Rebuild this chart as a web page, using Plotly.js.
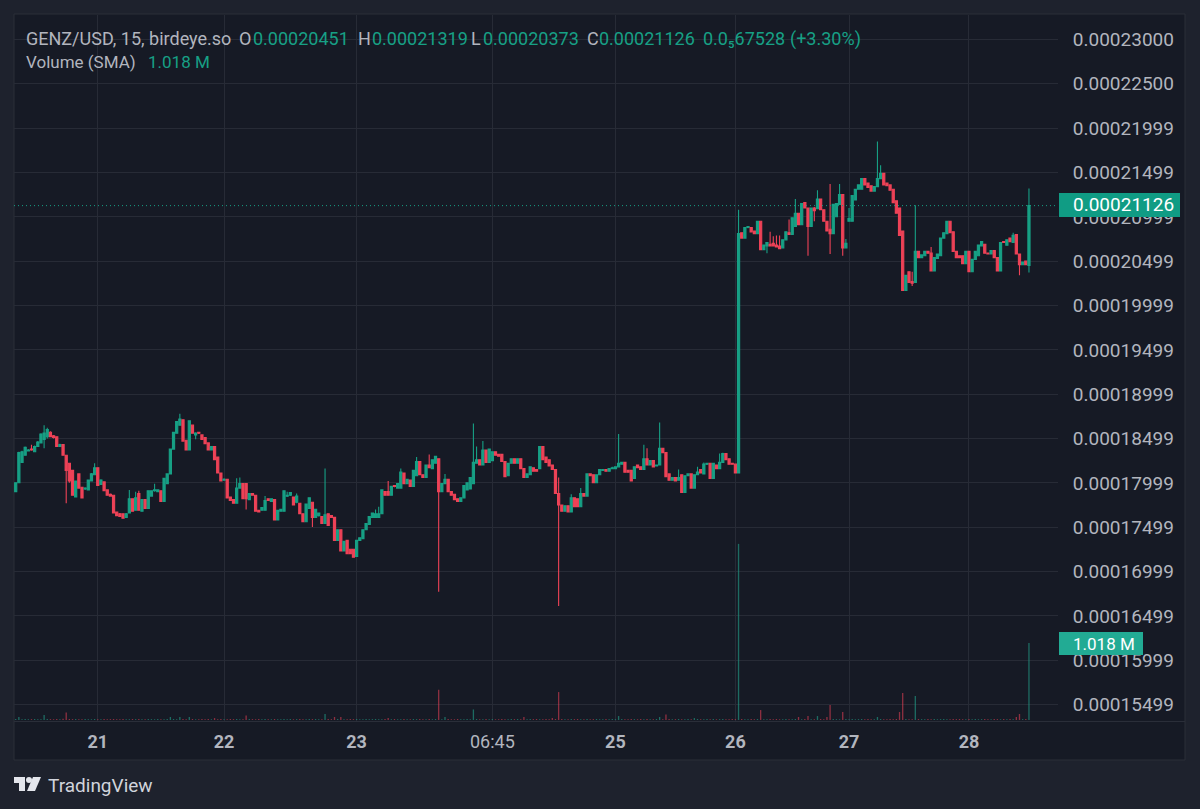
<!DOCTYPE html>
<html><head><meta charset="utf-8">
<script src="https://cdn.plot.ly/plotly-3.0.1.min.js"></script>
<style>html,body{margin:0;padding:0;background:#1e222d}</style></head>
<body><div id="chart" style="width:1200px;height:809px"></div>
<script>
// prices in units of 0.0000001 USD, volume in thousands
const PRICE_UNIT = 1e-7;
const opens = [
1790,1800,1823,1831,1836,1838,1835,1841,1845,1849,
1852,1857,1853,1852,1841,1843,1831,1822,1814,1784,
1810,1795,1793,1792,1802,1809,1817,1798,1801,1792,
1787,1786,1767,1765,1765,1761,1766,1782,1769,1788,
1768,1781,1771,1785,1791,1790,1791,1779,1799,1810,
1838,1856,1865,1871,1848,1837,1865,1854,1857,1854,
1851,1845,1837,1841,1829,1811,1803,1804,1784,1781,
1777,1794,1799,1799,1781,1788,1786,1769,1769,1769,
1782,1779,1781,1758,1768,1768,1785,1786,1784,1778,
1777,1765,1756,1771,1778,1761,1763,1762,1754,1765,
1763,1761,1735,1747,1723,1735,1725,1725,1717,1735,
1737,1747,1753,1761,1761,1761,1765,1790,1790,1786,
1797,1794,1794,1811,1799,1803,1796,1808,1824,1809,
1806,1820,1816,1822,1827,1790,1799,1804,1790,1787,
1782,1779,1783,1792,1793,1799,1822,1826,1820,1837,
1823,1825,1835,1832,1832,1824,1808,1822,1827,1822,
1827,1816,1806,1809,1817,1815,1816,1841,1829,1826,
1820,1815,1788,1775,1768,1774,1767,1783,1782,1773,
1788,1785,1810,1809,1800,1809,1814,1815,1813,1816,
1816,1818,1821,1823,1814,1814,1805,1820,1818,1815,
1827,1820,1825,1819,1820,1839,1834,1810,1803,1806,
1803,1809,1789,1808,1810,1794,1809,1815,1810,1821,
1822,1805,1820,1816,1823,1833,1827,1822,1821,1811,
2082,2076,2088,2088,2084,2081,2095,2063,2067,2069,
2070,2068,2067,2065,2074,2082,2080,2089,2104,2091,
2116,2110,2089,2110,2109,2120,2108,2095,2086,2081,
2100,2114,2125,2065,2095,2095,2119,2131,2131,2143,
2138,2135,2129,2134,2143,2149,2138,2136,2131,2118,
2110,2084,2017,2038,2027,2026,2061,2054,2056,2061,
2059,2039,2053,2056,2076,2081,2095,2083,2061,2056,
2056,2047,2061,2038,2052,2056,2067,2069,2059,2058,
2062,2054,2039,2072,2068,2076,2071,2080,2058,2046,
2050,2045.1];
const closes = [
1800,1834,1835,1840,1837,1837,1841,1846,1855,1856,
1860,1852,1851,1841,1843,1831,1814,1802,1786,1802,
1794,1783,1794,1803,1810,1817,1797,1803,1791,1786,
1785,1766,1763,1762,1760,1765,1782,1768,1783,1769,
1781,1771,1791,1791,1792,1792,1779,1805,1810,1838,
1857,1869,1872,1847,1837,1870,1856,1856,1856,1849,
1844,1837,1841,1826,1811,1802,1804,1783,1780,1777,
1794,1799,1782,1782,1788,1786,1768,1767,1772,1780,
1780,1782,1758,1769,1770,1791,1786,1789,1775,1785,
1765,1756,1776,1783,1761,1770,1766,1754,1764,1752,
1761,1735,1747,1723,1734,1720,1720,1716,1735,1738,
1747,1754,1762,1766,1765,1765,1792,1786,1786,1796,
1796,1799,1812,1799,1804,1796,1814,1824,1809,1806,
1820,1817,1826,1830,1790,1799,1804,1790,1786,1781,
1779,1783,1797,1800,1806,1823,1826,1820,1837,1823,
1838,1835,1831,1830,1824,1807,1822,1827,1822,1827,
1816,1806,1810,1818,1813,1813,1841,1826,1823,1819,
1815,1788,1775,1768,1774,1767,1783,1773,1773,1788,
1785,1810,1808,1800,1809,1815,1815,1813,1816,1817,
1818,1822,1823,1812,1812,1802,1818,1817,1815,1827,
1820,1825,1818,1820,1839,1834,1807,1803,1806,1802,
1806,1789,1808,1810,1794,1809,1812,1811,1821,1822,
1805,1822,1816,1823,1833,1826,1821,1821,1811,2081,
2076,2088,2089,2083,2081,2095,2063,2068,2071,2067,
2067,2066,2064,2074,2083,2080,2099,2104,2091,2115,
2110,2089,2110,2107,2120,2108,2095,2084,2081,2114,
2115,2125,2065,2070,2098,2124,2131,2136,2143,2136,
2133,2129,2134,2143,2149,2136,2135,2130,2116,2104,
2079,2017,2034,2026,2025,2061,2054,2057,2061,2059,
2039,2054,2058,2076,2082,2095,2082,2061,2054,2054,
2047,2061,2038,2052,2061,2068,2072,2059,2058,2062,
2054,2039,2071,2071,2074,2072,2079,2058,2046,2049,
2046,2112.6];
const highs = [
1800,1835,1836,1841,1838,1843,1842,1847,1856,1865,
1862,1858,1854,1852,1844,1843,1831,1822,1814,1802,
1810,1795,1795,1803,1811,1822,1817,1804,1801,1792,
1788,1786,1767,1766,1765,1766,1792,1782,1790,1791,
1781,1781,1791,1791,1799,1792,1791,1805,1810,1838,
1857,1869,1878,1871,1848,1870,1865,1857,1857,1854,
1851,1845,1841,1841,1829,1811,1805,1804,1784,1781,
1805,1806,1799,1799,1788,1788,1786,1769,1772,1785,
1782,1782,1781,1769,1770,1791,1790,1789,1784,1788,
1777,1765,1776,1783,1778,1770,1766,1762,1816,1765,
1763,1761,1747,1747,1734,1735,1725,1725,1735,1738,
1747,1754,1762,1766,1770,1773,1792,1790,1802,1796,
1797,1799,1816,1811,1804,1803,1814,1829,1824,1809,
1820,1832,1826,1830,1827,1799,1810,1804,1790,1787,
1782,1783,1797,1800,1806,1867,1841,1826,1847,1837,
1838,1835,1835,1832,1832,1824,1822,1827,1827,1827,
1827,1816,1810,1818,1817,1815,1841,1841,1829,1826,
1820,1815,1806,1775,1774,1774,1787,1783,1782,1794,
1788,1810,1810,1809,1809,1815,1815,1815,1816,1818,
1818,1855,1823,1823,1814,1814,1818,1820,1818,1843,
1839,1825,1825,1820,1868,1839,1834,1810,1806,1806,
1815,1809,1808,1810,1810,1809,1818,1815,1823,1822,
1822,1822,1820,1833,1834,1833,1827,1822,1821,2108,
2082,2088,2089,2088,2084,2095,2095,2068,2071,2083,
2078,2079,2079,2074,2083,2097,2099,2120,2104,2115,
2116,2110,2110,2111,2130,2120,2108,2095,2137,2114,
2115,2137,2125,2075,2110,2124,2131,2136,2143,2143,
2138,2135,2134,2185,2158,2149,2138,2136,2131,2118,
2110,2084,2034,2038,2038,2113,2061,2057,2061,2061,
2066,2054,2058,2076,2082,2095,2095,2083,2061,2056,
2056,2061,2061,2052,2061,2068,2072,2069,2059,2062,
2062,2054,2071,2072,2074,2076,2082,2080,2058,2049,
2050,2131.9];
const lows = [
1790,1800,1823,1831,1836,1836,1835,1841,1845,1839,
1850,1852,1850,1841,1841,1831,1777,1800,1786,1784,
1794,1783,1792,1792,1802,1809,1797,1798,1791,1786,
1785,1766,1763,1762,1760,1761,1766,1768,1769,1769,
1768,1771,1771,1785,1790,1790,1779,1779,1799,1810,
1838,1856,1865,1847,1837,1837,1856,1849,1855,1849,
1844,1837,1837,1826,1811,1802,1803,1783,1780,1777,
1777,1794,1782,1770,1781,1786,1768,1767,1769,1769,
1780,1779,1758,1758,1768,1768,1784,1785,1775,1777,
1765,1756,1756,1771,1750,1761,1762,1754,1754,1752,
1761,1735,1735,1723,1723,1720,1720,1716,1717,1735,
1737,1747,1753,1761,1761,1761,1765,1786,1786,1786,
1795,1794,1794,1799,1799,1796,1796,1808,1809,1806,
1806,1817,1816,1822,1677,1790,1799,1790,1786,1781,
1779,1779,1783,1792,1793,1799,1822,1820,1820,1823,
1823,1825,1831,1830,1824,1807,1808,1822,1822,1822,
1816,1806,1806,1809,1813,1813,1816,1826,1823,1819,
1815,1788,1661,1768,1768,1767,1767,1773,1773,1773,
1785,1785,1808,1800,1800,1809,1814,1813,1813,1816,
1816,1818,1821,1812,1812,1802,1805,1817,1815,1815,
1820,1820,1818,1819,1820,1834,1807,1803,1803,1802,
1803,1789,1789,1808,1794,1794,1809,1811,1810,1820,
1805,1805,1816,1816,1823,1826,1821,1821,1811,1811,
2076,2076,2087,2083,2081,2081,2063,2063,2059,2067,
2067,2066,2064,2065,2074,2080,2080,2089,2091,2091,
2110,2056,2089,2095,2109,2108,2095,2084,2058,2081,
2100,2114,2056,2065,2095,2095,2119,2131,2131,2136,
2133,2129,2129,2134,2143,2136,2135,2130,2116,2104,
2079,2017,2017,2026,2022,2026,2054,2054,2056,2059,
2039,2039,2053,2056,2076,2081,2082,2061,2054,2054,
2047,2047,2038,2038,2052,2056,2067,2059,2058,2058,
2054,2039,2039,2071,2068,2072,2071,2058,2034,2046,
2046,2037.3];
const volumes = [
14,40,12,14,10,12,14,12,10,66,
14,12,10,14,12,16,100,14,12,14,
12,10,14,12,10,14,12,12,14,10,
12,14,10,12,14,12,10,14,12,14,
12,10,14,12,10,14,12,12,14,40,
14,12,40,14,12,40,14,10,12,14,
12,14,10,26,12,14,12,10,14,12,
14,10,12,60,14,12,10,14,12,14,
12,10,14,12,10,14,12,14,10,12,
14,12,10,14,12,14,10,12,80,14,
12,40,14,40,12,10,14,12,14,10,
12,14,10,12,14,12,10,14,26,12,
14,10,12,14,12,10,14,12,14,10,
12,14,10,14,400,12,40,14,12,10,
14,12,10,14,12,140,14,12,10,14,
12,14,10,12,14,12,10,14,12,14,
12,40,10,14,12,14,10,12,14,12,
26,14,370,14,12,10,14,12,14,10,
12,14,10,12,14,12,10,14,12,14,
12,53,14,10,12,14,12,10,14,12,
14,10,12,14,40,12,73,14,10,12,
14,12,10,14,12,26,14,10,12,14,
12,14,10,12,14,12,10,14,12,2330,
14,12,10,14,12,14,132,12,10,14,
12,14,10,12,14,12,10,14,40,12,
14,53,10,12,53,14,12,40,198,14,
12,10,106,14,12,14,10,12,14,12,
14,10,12,40,14,12,10,14,12,14,
106,356,14,12,10,317,14,12,10,14,
12,14,10,12,14,12,10,14,12,14,
12,10,14,12,14,10,12,14,12,10,
14,12,10,14,12,14,10,40,80,12,
14,1018];
const priceTicks = [0.00023000,0.00022500,0.00021999,0.00021499,0.00020999,0.00020499,0.00019999,0.00019499,0.00018999,0.00018499,0.00017999,0.00017499,0.00016999,0.00016499,0.00015999,0.00015499];
const priceLabels = ["0.00023000","0.00022500","0.00021999","0.00021499","0.00020999","0.00020499","0.00019999","0.00019499","0.00018999","0.00018499","0.00017999","0.00017499","0.00016999","0.00016499","0.00015999","0.00015499"];
const timeTicks = [26,66,108,151,190,228,264,302];
const timeLabels = ["<b>21</b>","<b>22</b>","<b>23</b>","06:45","<b>25</b>","<b>26</b>","<b>27</b>","<b>28</b>"];
const lastPrice = 0.00021126;

const GREEN="#17a085", RED="#ee4257", TEXT="#b2b5be", GRID="#272b36", FONT="Roboto, sans-serif";
const idx = closes.map((_,i)=>i);
const W=1200,H=809,L=14,R=1058,T=15,B=722;
const px = x=>(x-L)/(R-L), py = y=>1-(y-T)/(B-T);
const txt=(text,x,y,color,size)=>({text,xref:'paper',yref:'paper',x:px(x),y:py(y),xanchor:'left',yanchor:'middle',showarrow:false,borderpad:0,font:{family:FONT,size:size||18,color:color||TEXT}});
const rect=(x0,y0,x1,y1,color,layer,line)=>({type:'rect',xref:'paper',yref:'paper',x0:px(x0),x1:px(x1),y0:py(y0),y1:py(y1),fillcolor:color,layer:layer||'above',line:line||{width:0}});
const poly=(pts,color)=>({type:'path',xref:'paper',yref:'paper',layer:'above',fillcolor:color,line:{width:0},path:'M'+pts.map(p=>px(p[0])+','+py(p[1])).join('L')+'Z'});

const traces=[
 {type:'candlestick',x:idx,open:opens.map(v=>v*PRICE_UNIT),close:closes.map(v=>v*PRICE_UNIT),high:highs.map(v=>v*PRICE_UNIT),low:lows.map(v=>v*PRICE_UNIT),
  increasing:{line:{color:GREEN,width:1.1},fillcolor:GREEN},decreasing:{line:{color:RED,width:1.1},fillcolor:RED},whiskerwidth:0,hoverinfo:'skip',showlegend:false,yaxis:'y'},
 {type:'bar',x:idx,y:volumes,width:0.42,yaxis:'y2',hoverinfo:'skip',showlegend:false,
  marker:{color:closes.map((c,i)=>c>=opens[i]?'rgba(34,150,130,0.65)':'rgba(238,66,87,0.55)'),line:{width:0}}}
];
const layout={
 width:W,height:H,margin:{l:L,r:W-R,t:T,b:H-B,pad:0},boxgap:0.02,boxmode:'overlay',
 paper_bgcolor:'#1e222d',plot_bgcolor:'#161a25',showlegend:false,hovermode:false,dragmode:false,
 xaxis:{type:'linear',range:[-0.54,330.2],tickmode:'array',tickvals:timeTicks,ticktext:timeLabels,showgrid:true,gridcolor:GRID,gridwidth:1,zeroline:false,showline:false,
   ticks:'outside',ticklen:3,tickcolor:'rgba(0,0,0,0)',tickfont:{family:FONT,size:18,color:TEXT},rangeslider:{visible:false},tickangle:0,automargin:false},
 yaxis:{side:'right',range:[0.00015302,0.00023276],tickmode:'array',tickvals:priceTicks,ticktext:priceLabels,showgrid:true,gridcolor:GRID,gridwidth:1,zeroline:false,showline:false,
   ticks:'outside',ticklen:10,tickcolor:'rgba(0,0,0,0)',tickfont:{family:FONT,size:19,color:TEXT},automargin:false},
 yaxis2:{overlaying:'y',side:'left',range:[-26,9326],visible:false},
 shapes:[
  rect(14,14,1185,760,'#161a25','below',{color:'#2a2e39',width:1}),
  {type:'line',xref:'paper',yref:'paper',x0:0,x1:px(1185),y0:py(721.5),y1:py(721.5),layer:'above',line:{color:'#2a2e39',width:1}},
  {type:'line',xref:'paper',yref:'y',x0:0,x1:1,y0:lastPrice,y1:lastPrice,layer:'above',line:{color:GREEN,width:1,dash:'1px,3px'}},
  rect(1059,193,1180,217,'#109c84'),
  rect(1059,632,1143,655,'#22ab94'),
  rect(14,777,25,783,'#e4e6ec'),
  rect(19,777,25,791,'#e4e6ec'),
  {type:'circle',xref:'paper',yref:'paper',layer:'above',fillcolor:'#e4e6ec',line:{width:0},x0:px(26),x1:px(32),y0:py(777),y1:py(783)},
  poly([[33,777],[41,777],[35,791],[27,791]],'#e4e6ec')
 ],
 annotations:[
  txt('GENZ/USD, 15, birdeye.so',25,39),
  txt('O',238,39),txt('0.00020451',252,39,GREEN),
  txt('H',357,39),txt('0.00021319',371,39,GREEN),
  txt('L',470,39),txt('0.00020373',482,39,GREEN),
  txt('C',586,39),txt('0.00021126',598,39,GREEN),
  txt('0.0₅67528',702,39,GREEN),txt('(+3.30%)',789,39,GREEN),
  txt('Volume (SMA)',25,62,TEXT,17),txt('1.018 M',147,62,GREEN,17),
  txt('0.00021126',1072,205,'#ffffff',19),
  txt('1.018 M',1072,644,'#ffffff',17),
  txt('TradingView',47,785,'#d1d4dc',19)
 ]
};
Plotly.newPlot('chart',traces,layout,{staticPlot:true,displayModeBar:false});
</script></body></html>
